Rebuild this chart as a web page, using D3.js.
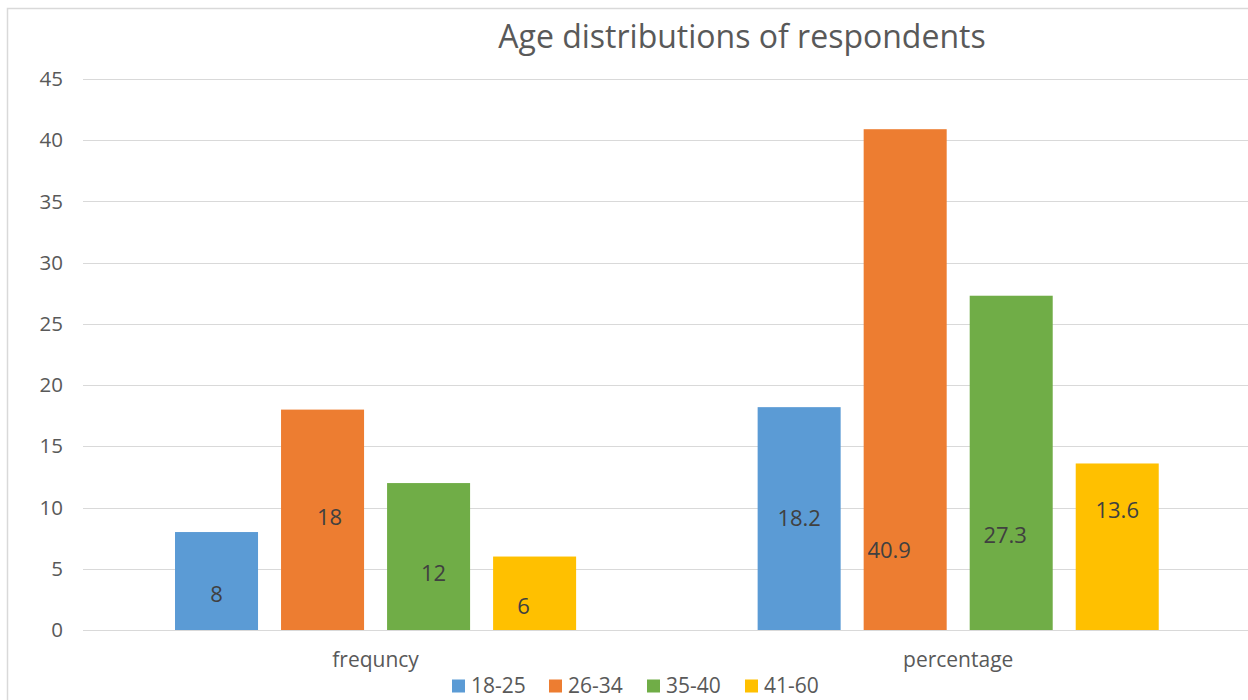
<!DOCTYPE html>
<html>
<head>
<meta charset="utf-8">
<script src="https://cdn.jsdelivr.net/npm/d3@7"></script>
<style>
  html, body { margin: 0; padding: 0; background: #fff; }
  svg { display: block; font-family: "Open Sans", Lato, sans-serif; }
</style>
</head>
<body>
<svg id="chart" width="1248" height="700"></svg>
<script>
// Age groups of respondents, shown as counts and as percentages
const categories = ["frequncy", "percentage"];
const ageGroups = ["18-25", "26-34", "35-40", "41-60"];
const frequency = [8, 18, 12, 6];
const percentage = [18.2, 40.9, 27.3, 13.6];
const yTicks = [0, 5, 10, 15, 20, 25, 30, 35, 40, 45];
const colors = ["#5B9BD5", "#ED7D31", "#70AD47", "#FFC000"];

const seriesByCategory = [frequency, percentage];

const svg = d3.select("#chart");
const W = 1248, H = 700;
const FONT = "'Open Sans', Lato, sans-serif";

// chart frame
svg.append("path")
  .attr("d", `M7.5,${H} V8.5 H${W}`)
  .attr("fill", "none")
  .attr("stroke", "#d9d9d9")
  .attr("stroke-width", 1.5);

const plot = { left: 84.25, right: 1249.5, top: 79, bottom: 630 };

const x0 = d3.scaleBand()
  .domain(categories)
  .range([plot.left, plot.right])
  .paddingInner(0)
  .paddingOuter(0);

const x1 = d3.scaleBand()
  .domain(ageGroups)
  .range([0, x0.bandwidth()])
  .paddingInner(0.217)
  .paddingOuter(0.856);

const y = d3.scaleLinear()
  .domain([0, 45])
  .range([plot.bottom, plot.top]);

// horizontal gridlines
svg.append("g")
  .selectAll("line")
  .data(yTicks)
  .join("line")
  .attr("x1", 83).attr("x2", W)
  .attr("y1", d => Math.round(y(d)) + 0.5)
  .attr("y2", d => Math.round(y(d)) + 0.5)
  .attr("stroke", "#d9d9d9")
  .attr("stroke-width", 1.2);

// y axis labels
const yAxis = d3.axisLeft(y).tickValues(yTicks).tickSize(0).tickPadding(0);
const gy = svg.append("g")
  .attr("transform", `translate(63,0)`)
  .call(yAxis);
gy.select(".domain").remove();
gy.selectAll("text")
  .attr("font-family", FONT)
  .attr("font-size", 20.5)
  .attr("fill", "#595959");

// bars
const rows = [];
categories.forEach((c, ci) => {
  ageGroups.forEach((g, gi) => {
    rows.push({ cat: c, group: g, gi, ci, value: seriesByCategory[ci][gi] });
  });
});

svg.append("g")
  .selectAll("rect")
  .data(rows)
  .join("rect")
  .attr("x", d => x0(d.cat) + x1(d.group))
  .attr("width", x1.bandwidth())
  .attr("y", d => y(d.value))
  .attr("height", d => y(0) - y(d.value))
  .attr("fill", d => colors[d.gi]);

// value labels sit inside the bars, each nudged from the bar centre
const labelNudge = [
  [0, 13], [7, -3], [5, 17], [-11, 13],
  [0, 0], [-16, 171], [-6, 72], [0, -36]
];
svg.append("g")
  .selectAll("text")
  .data(rows)
  .join("text")
  .attr("x", (d, i) => x0(d.cat) + x1(d.group) + x1.bandwidth() / 2 + labelNudge[i][0])
  .attr("y", (d, i) => (y(d.value) + y(0)) / 2 + labelNudge[i][1])
  .attr("dy", "0.35em")
  .attr("text-anchor", "middle")
  .attr("font-size", 22)
  .attr("fill", "#404040")
  .text(d => d.value);

// category labels
svg.append("g")
  .selectAll("text")
  .data(categories)
  .join("text")
  .attr("x", d => x0(d) + x0.bandwidth() / 2)
  .attr("y", 660)
  .attr("dy", "0.35em")
  .attr("text-anchor", "middle")
  .attr("font-size", 21)
  .attr("fill", "#595959")
  .text(d => d);

// title
svg.append("text")
  .attr("x", 742)
  .attr("y", 37)
  .attr("dy", "0.35em")
  .attr("text-anchor", "middle")
  .attr("font-size", 32)
  .attr("fill", "#595959")
  .text("Age distributions of respondents");

// legend
const legendX = [452, 549, 647, 745];
const legend = svg.append("g")
  .selectAll("g")
  .data(ageGroups)
  .join("g")
  .attr("transform", (d, i) => `translate(${legendX[i]},686)`);
legend.append("rect")
  .attr("x", 0).attr("y", -6.5)
  .attr("width", 13).attr("height", 13)
  .attr("fill", (d, i) => colors[i]);
legend.append("text")
  .attr("x", 19)
  .attr("dy", "0.35em")
  .attr("font-size", 21)
  .attr("fill", "#595959")
  .text(d => d);
</script>
</body>
</html>
